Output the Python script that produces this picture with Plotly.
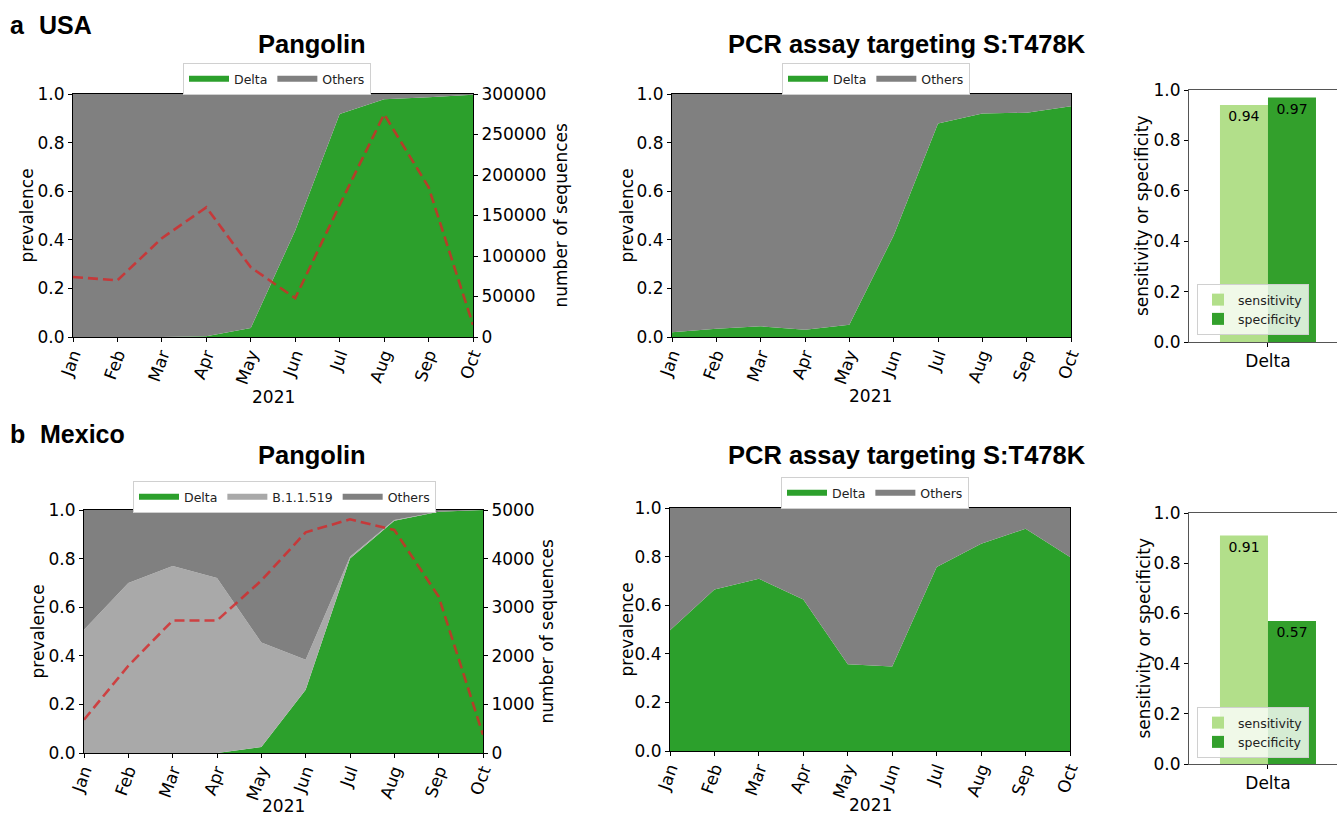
import plotly.graph_objects as go

W, H = 1337, 818

# ---------------- data ----------------
months = ["Jan", "Feb", "Mar", "Apr", "May", "Jun", "Jul", "Aug", "Sep", "Oct"]

usa_pango_delta = [0.0, 0.0, 0.0, 0.003, 0.037, 0.438, 0.918, 0.978, 0.987, 0.997]
usa_pango_others = [1.0, 1.0, 1.0, 0.997, 0.963, 0.562, 0.082, 0.022, 0.013, 0.003]
usa_sequences = [74000, 70000, 122000, 160000, 86000, 48000, 163000, 275000, 185000, 15000]
usa_pcr_delta = [0.02, 0.034, 0.044, 0.03, 0.05, 0.418, 0.879, 0.92, 0.923, 0.95]
usa_pcr_others = [0.98, 0.966, 0.956, 0.97, 0.95, 0.582, 0.121, 0.08, 0.077, 0.05]

mex_pango_delta = [0.0, 0.0, 0.0, 0.0, 0.025, 0.26, 0.80, 0.956, 0.993, 1.0]
mex_pango_b11519 = [0.507, 0.70, 0.77, 0.72, 0.43, 0.124, 0.008, 0.003, 0.0, 0.0]
mex_pango_others = [0.493, 0.30, 0.23, 0.28, 0.545, 0.616, 0.192, 0.041, 0.007, 0.0]
mex_sequences = [685, 1795, 2726, 2726, 3548, 4541, 4808, 4589, 3219, 377]
mex_pcr_delta = [0.497, 0.665, 0.709, 0.623, 0.357, 0.348, 0.757, 0.853, 0.915, 0.798]
mex_pcr_others = [0.503, 0.335, 0.291, 0.377, 0.643, 0.652, 0.243, 0.147, 0.085, 0.202]

bar_categories = ["Delta"]
usa_sensitivity = [0.94]
usa_specificity = [0.97]
mex_sensitivity = [0.91]
mex_specificity = [0.57]

# ---------------- styles ----------------
GREEN = "#2ca02c"
GRAY = "#808080"
LGRAY = "#a9a9a9"
RED = "rgba(214,39,40,0.8)"
SENS = "#b2df8a"
SPEC = "#33a02c"
TICKFONT = dict(family="DejaVu Sans", size=17, color="black")
LEGFONT = dict(family="DejaVu Sans", size=12.5, color="#222")


def px(p):
    return p / W


def py(p):
    return 1 - p / H


fig = go.Figure()


def area(x_ax, y_ax, legend, group, series):
    for name, vals, col in series:
        fig.add_trace(go.Scatter(
            x=months, y=vals, name=name, mode="none", stackgroup=group,
            fillcolor=col, xaxis=x_ax, yaxis=y_ax, legend=legend,
            hoverinfo="skip"))


def seq_line(x_ax, y_ax, vals):
    fig.add_trace(go.Scatter(
        x=months, y=vals, mode="lines", showlegend=False, xaxis=x_ax, yaxis=y_ax,
        line=dict(color=RED, width=2.6, dash="10px,5px")))


def bars(x_ax, y_ax, legend, sens, spec):
    xs_s = [i - 0.2 for i, _ in enumerate(bar_categories)]
    xs_p = [i + 0.2 for i, _ in enumerate(bar_categories)]
    for name, xs, vals, col in (("sensitivity", xs_s, sens, SENS),
                                ("specificity", xs_p, spec, SPEC)):
        fig.add_trace(go.Bar(
            x=xs, y=vals, width=0.4, name=name, marker=dict(color=col, line=dict(width=0)),
            text=[f"{v:.2f}" for v in vals], textposition="inside",
            insidetextanchor="end", textangle=0,
            textfont=dict(family="DejaVu Sans", size=14, color="black"),
            xaxis=x_ax, yaxis=y_ax, legend=legend))


# panel a
area("x", "y", "legend", "a1", [("Delta", usa_pango_delta, GREEN), ("Others", usa_pango_others, GRAY)])
seq_line("x", "y2", usa_sequences)
area("x2", "y3", "legend2", "a2", [("Delta", usa_pcr_delta, GREEN), ("Others", usa_pcr_others, GRAY)])
bars("x3", "y4", "legend3", usa_sensitivity, usa_specificity)
# panel b
area("x4", "y5", "legend4", "b1", [("Delta", mex_pango_delta, GREEN),
                                    ("B.1.1.519", mex_pango_b11519, LGRAY),
                                    ("Others", mex_pango_others, GRAY)])
seq_line("x4", "y6", mex_sequences)
area("x5", "y7", "legend5", "b2", [("Delta", mex_pcr_delta, GREEN), ("Others", mex_pcr_others, GRAY)])
bars("x6", "y8", "legend6", mex_sensitivity, mex_specificity)


def month_xaxis(x0, x1, anchor):
    return dict(domain=[px(x0), px(x1)], anchor=anchor, type="category",
                range=[0, 9], showline=True, linecolor="black", linewidth=1, mirror=True,
                ticks="outside", ticklen=4, tickcolor="black", tickangle=-70,
                ticklabelstandoff=-4,
                tickfont=TICKFONT, showgrid=False, zeroline=False, fixedrange=True,
                automargin=False)


def prev_yaxis(y0, y1, anchor):
    return dict(domain=[py(y1), py(y0)], anchor=anchor, range=[0, 1], dtick=0.2,
                tickformat=".1f", showline=True, linecolor="black", linewidth=1,
                mirror=True, ticks="outside", ticklen=4, tickcolor="black",
                tickfont=TICKFONT, showgrid=False, zeroline=False, automargin=False)


def seq_yaxis(overlay, anchor, top, step):
    return dict(overlaying=overlay, anchor=anchor, side="right", range=[0, top],
                dtick=step, tickformat="d", ticks="outside", ticklen=4,
                tickcolor="black", tickfont=TICKFONT, showgrid=False,
                zeroline=False, showline=False, automargin=False)


def bar_xaxis(x0, anchor):
    return dict(domain=[px(x0), 1.0], anchor=anchor, range=[-0.658, 0.575],
                tickvals=list(range(len(bar_categories))), ticktext=bar_categories,
                showline=True, linecolor="#555", linewidth=1, mirror=True,
                ticks="outside", ticklen=4, tickcolor="black", tickfont=TICKFONT,
                showgrid=False, zeroline=False, automargin=False)


def bar_yaxis(y0, y1, anchor):
    return dict(domain=[py(y1), py(y0)], anchor=anchor, range=[0, 1], dtick=0.2,
                tickformat=".1f", showline=True, linecolor="#555", linewidth=1,
                ticks="outside", ticklen=4, tickcolor="black", tickfont=TICKFONT,
                showgrid=False, zeroline=False, automargin=False)


def hleg(x0, ytop):
    return dict(x=px(x0), y=py(ytop), xanchor="left", yanchor="top", orientation="h",
                bgcolor="white", bordercolor="#d0d0d0", borderwidth=1, font=LEGFONT,
                itemwidth=40, tracegroupgap=0, traceorder="normal")


def vleg(x0, ybot):
    return dict(x=px(x0), y=py(ybot), xanchor="left", yanchor="bottom",
                orientation="v", bgcolor="rgba(255,255,255,0.8)",
                bordercolor="#d0d0d0", borderwidth=1, font=LEGFONT,
                itemwidth=30, tracegroupgap=0, traceorder="normal")


annotations = []


def txt(text, x, y, size, bold=False, angle=0, xanchor="center", yanchor="middle",
        family="DejaVu Sans"):
    annotations.append(dict(
        text=f"<b>{text}</b>" if bold else text, x=px(x), y=py(y), xref="paper",
        yref="paper", showarrow=False, textangle=angle, xanchor=xanchor,
        yanchor=yanchor, font=dict(family=family, size=size, color="black")))


TITLEF = "Liberation Sans, Arial, sans-serif"
txt("a", 8, 25, 25, bold=True, xanchor="left", family=TITLEF)
txt("USA", 37, 25, 25, bold=True, xanchor="left", family=TITLEF)
txt("b", 8, 434, 25, bold=True, xanchor="left", family=TITLEF)
txt("Mexico", 38, 434, 25, bold=True, xanchor="left", family=TITLEF)
txt("Pangolin", 312, 44, 25.5, bold=True, family=TITLEF)
txt("PCR assay targeting S:T478K", 907, 44, 25.5, bold=True, family=TITLEF)
txt("Pangolin", 312, 455, 25.5, bold=True, family=TITLEF)
txt("PCR assay targeting S:T478K", 907, 455, 25.5, bold=True, family=TITLEF)

txt("prevalence", 26, 215.5, 17, angle=-90)
txt("prevalence", 626, 215.5, 17, angle=-90)
txt("prevalence", 37, 631.5, 17, angle=-90)
txt("prevalence", 626, 629.5, 17, angle=-90)
txt("number of sequences", 560, 215.5, 17, angle=-90)
txt("number of sequences", 546, 631.5, 17, angle=-90)
txt("sensitivity or specificity", 1142, 216, 17, angle=-90)
txt("sensitivity or specificity", 1143, 638.5, 17, angle=-90)
txt("2021", 273, 397, 17)
txt("2021", 871, 396, 17)
txt("2021", 283.5, 818, 17, yanchor="bottom")
txt("2021", 870, 817, 17, yanchor="bottom")

fig.update_layout(
    width=W, height=H, margin=dict(l=0, r=0, t=0, b=0, autoexpand=False),
    paper_bgcolor="white", plot_bgcolor="white", barmode="overlay",
    xaxis=month_xaxis(73, 473, "y"),
    yaxis=prev_yaxis(94, 337, "x"),
    yaxis2=seq_yaxis("y", "x", 300000, 50000),
    xaxis2=month_xaxis(672, 1071, "y3"),
    yaxis3=prev_yaxis(94, 337, "x2"),
    xaxis3=bar_xaxis(1189, "y4"),
    yaxis4=bar_yaxis(90, 342, "x3"),
    xaxis4=month_xaxis(84, 483, "y5"),
    yaxis5=prev_yaxis(510, 753, "x4"),
    yaxis6=seq_yaxis("y5", "x4", 5000, 1000),
    xaxis5=month_xaxis(670, 1070, "y7"),
    yaxis7=prev_yaxis(508, 751, "x5"),
    xaxis6=bar_xaxis(1189, "y8"),
    yaxis8=bar_yaxis(513, 764, "x6"),
    legend=hleg(183, 63),
    legend2=hleg(782, 63),
    legend3=vleg(1197, 335),
    legend4=hleg(133, 481),
    legend5=hleg(781, 477),
    legend6=vleg(1197, 758),
    annotations=annotations,
    showlegend=True,
)

fig.write_html("out.html")
